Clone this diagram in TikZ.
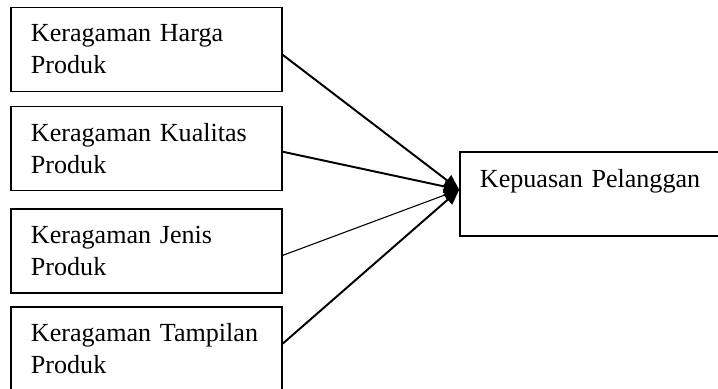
\documentclass[tikz,border=0pt]{standalone}
\usepackage{fontspec}
\setmainfont{Liberation Serif}
\usetikzlibrary{arrows.meta}
\tikzset{
  kotak/.style={draw,line width=0.7pt,minimum width=124.7pt,minimum height=38.6pt,
    text width=106.3pt,inner xsep=9.2pt,align=left,
    font=\fontsize{12}{14.7}\selectfont},
  panah/.style={line width=0.9pt,-{Triangle[length=7pt,width=6pt]}},
}
\begin{document}
\begin{tikzpicture}[x=0.46pt,y=-0.46pt]
\useasboundingbox(0,0)rectangle(718,389);
\clip(0,0)rectangle(718,389);
\node[kotak](harga)at(146.5,49.5){Keragaman Harga\\Produk};
\node[kotak](kualitas)at(146.5,148.5){Keragaman Kualitas\\Produk};
\node[kotak](jenis)at(146.5,251){Keragaman Jenis\\Produk};
\node[kotak](tampilan)at(146.5,349){Keragaman Tampilan\\Produk};
\node[kotak](kepuasan)at(595.5,194){Kepuasan Pelanggan\\\mbox{}};
\coordinate(ujung)at([yshift=2pt]kepuasan.west);
\draw[panah]([yshift=-2.5pt]harga.east)--(ujung);
\draw[panah]([yshift=-1.5pt]kualitas.east)--(ujung);
\draw[panah,line width=0.5pt]([yshift=-2pt]jenis.east)--(ujung);
\draw[panah]([yshift=2.5pt]tampilan.east)--(ujung);
\end{tikzpicture}
\end{document}
